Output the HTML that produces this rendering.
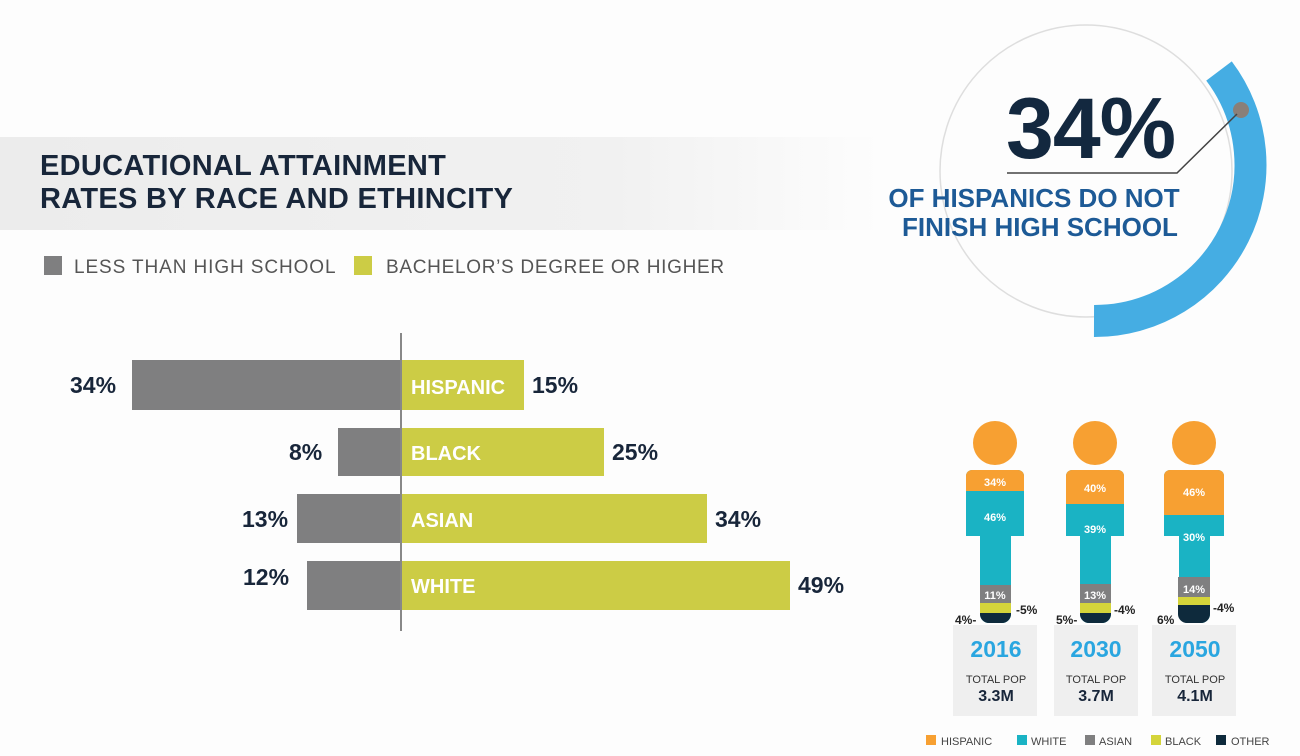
<!DOCTYPE html>
<html><head><meta charset="utf-8"><style>
html,body{margin:0;padding:0;background:#fdfdfd;}
svg{display:block;font-family:"Liberation Sans",sans-serif;}
</style></head><body>
<svg width="1300" height="756" viewBox="0 0 1300 756" xmlns="http://www.w3.org/2000/svg">
<defs>
<linearGradient id="hb" x1="0" x2="1" y1="0" y2="0">
<stop offset="0" stop-color="#ececec"/><stop offset="0.7" stop-color="#f1f1f1"/><stop offset="1" stop-color="#fdfdfd"/>
</linearGradient>
</defs>
<rect width="1300" height="756" fill="#fdfdfd"/>
<rect x="0" y="137" width="880" height="93" fill="url(#hb)"/>
<text x="40" y="175" font-size="29" font-weight="bold" fill="#18263a" letter-spacing="0.3">EDUCATIONAL ATTAINMENT</text>
<text x="40" y="208" font-size="29" font-weight="bold" fill="#18263a" letter-spacing="0.3">RATES BY RACE AND ETHINCITY</text>
<rect x="44" y="256" width="18" height="19" fill="#7f7f80"/>
<text x="74" y="273" font-size="19" fill="#555" letter-spacing="0.9">LESS THAN HIGH SCHOOL</text>
<rect x="354" y="256" width="18" height="19" fill="#cccc45"/>
<text x="386" y="273" font-size="19" fill="#555" letter-spacing="0.7">BACHELOR’S DEGREE OR HIGHER</text>

<g font-weight="bold" font-size="23" fill="#18263a">
<rect x="132" y="360" width="269" height="50" fill="#7f7f80"/>
<rect x="401" y="360" width="123" height="50" fill="#cccc45"/>
<text x="70" y="393">34%</text><text x="532" y="393">15%</text>
<rect x="338" y="428" width="63" height="48" fill="#7f7f80"/>
<rect x="401" y="428" width="203" height="48" fill="#cccc45"/>
<text x="289" y="460">8%</text><text x="612" y="460">25%</text>
<rect x="297" y="494" width="104" height="49" fill="#7f7f80"/>
<rect x="401" y="494" width="306" height="49" fill="#cccc45"/>
<text x="242" y="527">13%</text><text x="715" y="527">34%</text>
<rect x="307" y="561" width="94" height="49" fill="#7f7f80"/>
<rect x="401" y="561" width="389" height="49" fill="#cccc45"/>
<text x="243" y="585">12%</text><text x="798" y="593">49%</text>
</g>
<g font-weight="bold" font-size="20" fill="#fff">
<text x="411" y="394">HISPANIC</text><text x="411" y="460">BLACK</text>
<text x="411" y="527">ASIAN</text><text x="411" y="593">WHITE</text>
</g>
<line x1="401" y1="333" x2="401" y2="631" stroke="#888" stroke-width="2"/>

<circle cx="1086" cy="171" r="146" fill="none" stroke="#dedede" stroke-width="1.5"/>
<path d="M1219 71 A156 156 0 0 1 1094 321" fill="none" stroke="#45ade3" stroke-width="32"/>
<circle cx="1241" cy="110" r="8" fill="#8a7f78"/>
<polyline points="1237,114 1177,173 1007,173" fill="none" stroke="#444" stroke-width="1.5"/>
<text x="1006" y="158" font-size="86" font-weight="bold" fill="#13283f" letter-spacing="-1">34%</text>
<text x="1034" y="207" font-size="26" font-weight="bold" fill="#1d5a96" text-anchor="middle">OF HISPANICS DO NOT</text>
<text x="1040" y="236" font-size="26" font-weight="bold" fill="#1d5a96" text-anchor="middle">FINISH HIGH SCHOOL</text>

<g font-weight="bold" font-size="11" fill="#fff" text-anchor="middle">
<rect x="953" y="625" width="84" height="91" fill="#efefef"/>
<rect x="1054" y="625" width="84" height="91" fill="#efefef"/>
<rect x="1152" y="625" width="84" height="91" fill="#efefef"/>

<circle cx="995" cy="443" r="22" fill="#f7a032"/>
<path d="M966 476 a6 6 0 0 1 6 -6 h46 a6 6 0 0 1 6 6 v60 h-13 v78 a9 9 0 0 1 -9 9 h-13 a9 9 0 0 1 -9 -9 v-78 h-14 z" fill="#1ab3c4"/>
<path d="M966 476 a6 6 0 0 1 6 -6 h46 a6 6 0 0 1 6 6 v15 h-58 z" fill="#f7a032"/>
<rect x="980" y="585" width="31" height="18" fill="#7f7f80"/>
<rect x="980" y="603" width="31" height="10" fill="#d4d43a"/>
<path d="M980 613 h31 v1 a9 9 0 0 1 -9 9 h-13 a9 9 0 0 1 -9 -9 z" fill="#0e2a3c"/>
<text x="995" y="486">34%</text><text x="995" y="521">46%</text><text x="995" y="599">11%</text>

<circle cx="1095" cy="443" r="22" fill="#f7a032"/>
<path d="M1066 476 a6 6 0 0 1 6 -6 h46 a6 6 0 0 1 6 6 v60 h-13 v78 a9 9 0 0 1 -9 9 h-13 a9 9 0 0 1 -9 -9 v-78 h-14 z" fill="#1ab3c4"/>
<path d="M1066 476 a6 6 0 0 1 6 -6 h46 a6 6 0 0 1 6 6 v28 h-58 z" fill="#f7a032"/>
<rect x="1080" y="584" width="31" height="19" fill="#7f7f80"/>
<rect x="1080" y="603" width="31" height="10" fill="#d4d43a"/>
<path d="M1080 613 h31 v1 a9 9 0 0 1 -9 9 h-13 a9 9 0 0 1 -9 -9 z" fill="#0e2a3c"/>
<text x="1095" y="492">40%</text><text x="1095" y="533">39%</text><text x="1095" y="599">13%</text>

<circle cx="1194" cy="443" r="22" fill="#f7a032"/>
<path d="M1164 476 a6 6 0 0 1 6 -6 h48 a6 6 0 0 1 6 6 v60 h-14 v78 a9 9 0 0 1 -9 9 h-13 a9 9 0 0 1 -9 -9 v-78 h-15 z" fill="#1ab3c4"/>
<path d="M1164 476 a6 6 0 0 1 6 -6 h48 a6 6 0 0 1 6 6 v39 h-60 z" fill="#f7a032"/>
<rect x="1178" y="577" width="32" height="20" fill="#7f7f80"/>
<rect x="1178" y="597" width="32" height="8" fill="#d4d43a"/>
<path d="M1178 605 h32 v9 a9 9 0 0 1 -9 9 h-14 a9 9 0 0 1 -9 -9 z" fill="#0e2a3c"/>
<text x="1194" y="496">46%</text><text x="1194" y="541">30%</text><text x="1194" y="593">14%</text>
</g>
<g font-size="12" fill="#222" font-weight="bold">
<text x="955" y="624">4%-</text><text x="1016" y="614">-5%</text>
<text x="1056" y="624">5%-</text><text x="1114" y="614">-4%</text>
<text x="1157" y="624">6%</text><text x="1213" y="612">-4%</text>
</g>
<g text-anchor="middle">
<text x="996" y="657" font-size="23" font-weight="bold" fill="#2aa6e0">2016</text>
<text x="1096" y="657" font-size="23" font-weight="bold" fill="#2aa6e0">2030</text>
<text x="1195" y="657" font-size="23" font-weight="bold" fill="#2aa6e0">2050</text>
<text x="996" y="683" font-size="11" fill="#333">TOTAL POP</text>
<text x="1096" y="683" font-size="11" fill="#333">TOTAL POP</text>
<text x="1195" y="683" font-size="11" fill="#333">TOTAL POP</text>
<text x="996" y="701" font-size="16" font-weight="bold" fill="#18263a">3.3M</text>
<text x="1096" y="701" font-size="16" font-weight="bold" fill="#18263a">3.7M</text>
<text x="1195" y="701" font-size="16" font-weight="bold" fill="#18263a">4.1M</text>
</g>
<g font-size="11" fill="#444">
<rect x="926" y="735" width="10" height="10" fill="#f7a032"/><text x="941" y="745">HISPANIC</text>
<rect x="1017" y="735" width="10" height="10" fill="#1ab3c4"/><text x="1031" y="745">WHITE</text>
<rect x="1085" y="735" width="10" height="10" fill="#7f7f80"/><text x="1099" y="745">ASIAN</text>
<rect x="1151" y="735" width="10" height="10" fill="#d4d43a"/><text x="1165" y="745">BLACK</text>
<rect x="1216" y="735" width="10" height="10" fill="#0e2a3c"/><text x="1231" y="745">OTHER</text>
</g>
</svg>
</body></html>
